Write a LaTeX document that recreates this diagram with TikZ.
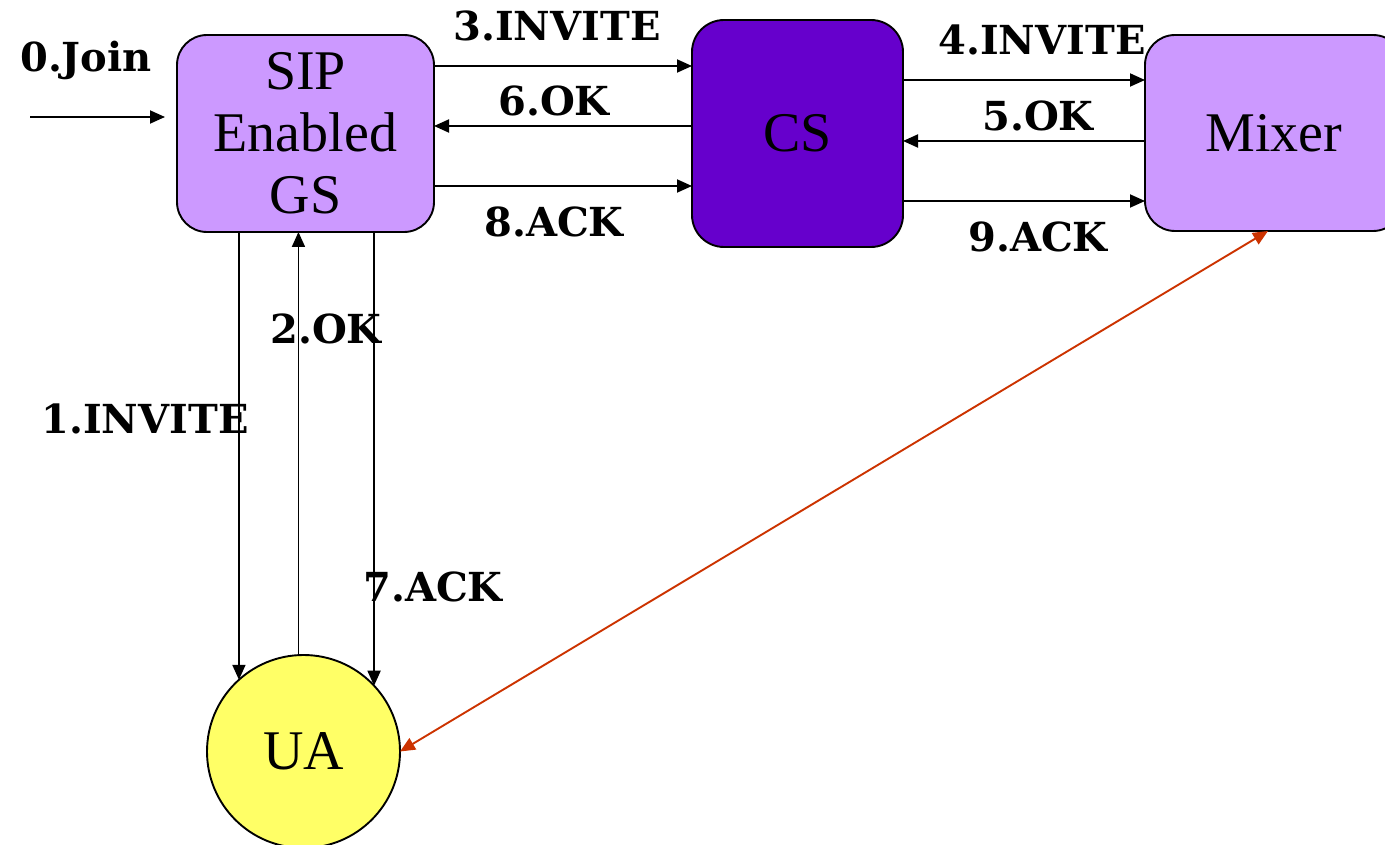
\documentclass[tikz,border=0pt]{standalone}
\usepackage{fontspec}
\setmainfont{Liberation Serif}
\newfontfamily\labelfont{DejaVu Serif}
\usetikzlibrary{arrows.meta}
\definecolor{gsfill}{HTML}{CC99FF}
\definecolor{csfill}{HTML}{6600CC}
\definecolor{uafill}{HTML}{FFFF66}
\definecolor{medialine}{HTML}{CC3300}
\begin{document}
\begin{tikzpicture}[x=1pt,y=-1pt,
  box/.style={draw=black, line width=1.9pt, rounded corners=30pt, align=center,
    font=\fontsize{56}{62}\selectfont, inner sep=0pt, outer sep=0pt},
  msg/.style={-{Triangle[length=15pt,width=13pt]}, line width=1.9pt},
  lbl/.style={font=\labelfont\bfseries\fontsize{40}{40}\selectfont, inner sep=0pt, anchor=base}
]
\useasboundingbox (0,0) rectangle (1385,845);

% entities
\node[box, fill=gsfill, minimum width=257pt, minimum height=197pt] (GS) at (305.5,133.5) {SIP\\Enabled\\GS};
\node[box, fill=csfill, rounded corners=32pt, minimum width=211pt, minimum height=227pt] (CS) at (797.5,133.5) {CS};
\node[box, fill=gsfill, minimum width=258pt, minimum height=196pt] (Mixer) at (1274,133) {Mixer};
\node[circle, draw=black, fill=uafill, line width=1.9pt, minimum size=193pt, inner sep=0pt, outer sep=0pt,
  font=\fontsize{56}{62}\selectfont] (UA) at (303.5,751.5) {UA};

% join request
\coordinate (joinstart) at (30,117);
\draw[msg, shorten >=12pt] (joinstart) -- (joinstart -| GS.west);

% GS <-> CS
\draw[msg] (GS.east |- 0,66) -- (CS.west |- 0,66);
\draw[msg] (CS.west |- 0,126) -- (GS.east |- 0,126);
\draw[msg] (GS.east |- 0,186) -- (CS.west |- 0,186);

% CS <-> Mixer
\draw[msg] (CS.east |- 0,80) -- (Mixer.west |- 0,80);
\draw[msg] (Mixer.west |- 0,141) -- (CS.east |- 0,141);
\draw[msg] (CS.east |- 0,201) -- (Mixer.west |- 0,201);

% GS <-> UA
\draw[msg] (UA.132.8 |- GS.south) -- (UA.132.8);
\draw[msg] (UA.93.3) -- (UA.93.3 |- GS.south);
\draw[msg] (UA.43.1 |- GS.south) -- (UA.43.1);

% media path
\draw[medialine, line width=1.9pt, {Triangle[length=15pt,width=13pt]}-{Triangle[length=15pt,width=13pt]}]
  (UA.east) -- ([xshift=-6pt]Mixer.south);

% message labels
\node[lbl] (l0) at (86,72) {0.Join};
\node[lbl] (l1) at (145,433) {1.INVITE};
\node[lbl] (l2) at (326,343) {2.OK};
\node[lbl] (l3) at (557,41) {3.INVITE};
\node[lbl] (l4) at (1042,55) {4.INVITE};
\node[lbl] (l5) at (1038,131) {5.OK};
\node[lbl] (l6) at (554,116) {6.OK};
\node[lbl] (l7) at (433,601) {7.ACK};
\node[lbl] (l8) at (554,237) {8.ACK};
\node[lbl] (l9) at (1038,252) {9.ACK};
\end{tikzpicture}
\end{document}
